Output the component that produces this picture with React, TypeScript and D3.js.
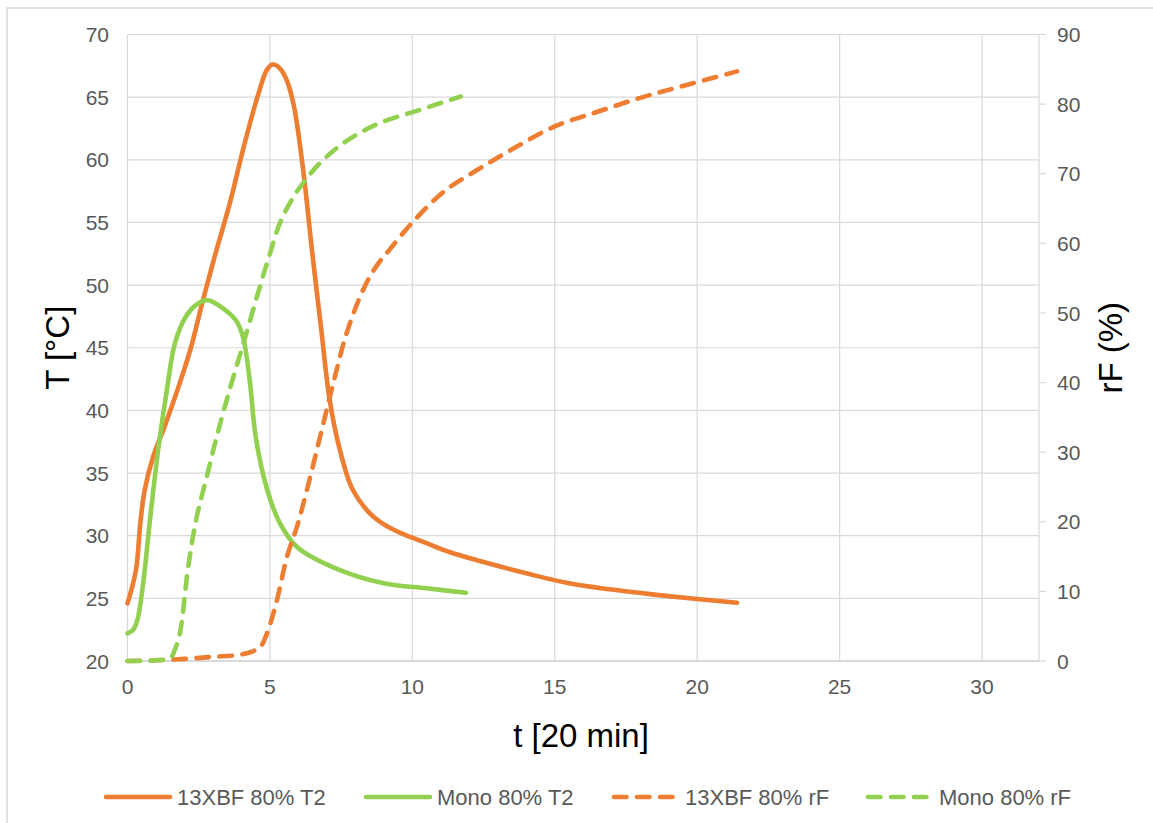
import React from "react";
import * as d3 from "d3";

// ---- data ----
const xTicks = [0, 5, 10, 15, 20, 25, 30];
const yLeftTicks = [20, 25, 30, 35, 40, 45, 50, 55, 60, 65, 70];
const yRightTicks = [0, 10, 20, 30, 40, 50, 60, 70, 80, 90];

const t13T = [0, 0.3, 0.45, 0.6, 0.9, 1.3, 1.75, 2.2, 2.65, 3.1, 3.6, 4.1, 4.6, 4.9, 5.1, 5.35, 5.6, 5.85, 6.15, 6.5, 6.8, 7.1, 7.45, 7.9, 8.5, 9.0, 9.6, 10.5, 11.3, 12.5, 14, 15.5, 17, 18.5, 20, 21.4];
const v13T = [24.6, 27.3, 31.0, 33.6, 36.3, 38.7, 41.6, 44.8, 48.8, 52.6, 56.6, 61.2, 65.3, 67.2, 67.6, 67.3, 66.3, 64.2, 59.5, 52.3, 46.5, 40.8, 36.9, 33.7, 31.8, 30.9, 30.2, 29.4, 28.7, 27.9, 27.0, 26.2, 25.7, 25.3, 24.95, 24.65];

const tMonoT = [0, 0.2, 0.35, 0.55, 0.8, 1.08, 1.38, 1.67, 2.05, 2.4, 2.8, 3.25, 3.8, 4.05, 4.3, 4.5, 4.9, 5.35, 5.95, 7.2, 9, 10.5, 11.88];
const vMonoT = [22.2, 22.5, 23.3, 26.2, 31.5, 36.9, 41.6, 45.4, 47.5, 48.4, 48.8, 48.3, 47.2, 45.9, 42.2, 37.9, 33.7, 31.0, 29.1, 27.5, 26.2, 25.8, 25.45];

const t13rF = [0, 1, 2, 3, 3.95, 4.4, 4.66, 4.9, 5.25, 5.6, 5.95, 6.3, 6.76, 7.23, 7.7, 8.27, 8.7, 9.2, 10.0, 11.1, 12.3, 13.5, 15, 16.5, 18, 19.5, 21.4];
const v13rF = [0, 0.1, 0.3, 0.6, 0.9, 1.4, 2, 4, 8.8, 15, 19.3, 24.6, 32.2, 40, 47.2, 53.3, 56.5, 59.1, 63, 67.4, 70.6, 73.5, 76.8, 78.9, 80.9, 82.6, 84.7];

const tMonorF = [0, 0.5, 1.0, 1.5, 1.65, 1.84, 2.13, 2.43, 2.78, 3.13, 3.6, 4.06, 4.7, 5.0, 5.36, 5.8, 6.17, 6.7, 7.35, 8.0, 8.87, 10.28, 11.7];
const vMonorF = [0, 0, 0.1, 0.4, 1.5, 4, 13.5, 20.7, 26.4, 32.2, 39.2, 45.5, 54.5, 58.5, 63, 66.5, 68.7, 71.3, 73.7, 75.5, 77.3, 79.2, 81.1];

const seriesNames = ["13XBF 80% T2", "Mono 80% T2", "13XBF 80% rF", "Mono 80% rF"];

const ORANGE = "#ED7D31";
const GREEN = "#92D050";
const GRID = "#d9d9d9";
const TXT = "#595959";
const FONT = "'Liberation Sans', Arial, sans-serif";

export default function App() {
  const W = 1153, H = 823;
  const left = 127.5, right = 1039, top = 34.5, bottom = 661;

  const x = d3.scaleLinear().domain([0, 32]).range([left, right]);
  const yL = d3.scaleLinear().domain([20, 70]).range([bottom, top]);
  const yR = d3.scaleLinear().domain([0, 90]).range([bottom, top]);

  const curve = d3.curveCatmullRom.alpha(0.5);
  const lineL = d3.line<[number, number]>().x(d => x(d[0])).y(d => yL(d[1])).curve(curve);
  const lineR = d3.line<[number, number]>().x(d => x(d[0])).y(d => yR(d[1])).curve(curve);

  const zip = (a: number[], b: number[]) => a.map((v, i) => [v, b[i]] as [number, number]);

  const series = [
    { name: seriesNames[0], d: lineL(zip(t13T, v13T)), color: ORANGE, dash: undefined },
    { name: seriesNames[1], d: lineL(zip(tMonoT, vMonoT)), color: GREEN, dash: undefined },
    { name: seriesNames[2], d: lineR(zip(t13rF, v13rF)), color: ORANGE, dash: "12.5,10.5" },
    { name: seriesNames[3], d: lineR(zip(tMonorF, vMonorF)), color: GREEN, dash: "12.5,10.5" },
  ];

  const legendX = [104, 364, 612, 866];
  const legendY = 797;

  return (
    <svg width={W} height={H} style={{ position: "absolute", left: 0, top: 0, background: "#fff" }} fontFamily={FONT}>
      <rect x={7} y={8} width={1170} height={840} fill="#fff" stroke={GRID} strokeWidth={1.5} />
      {/* horizontal gridlines */}
      {yLeftTicks.map(v => (
        <line key={"h" + v} x1={left} x2={right} y1={yL(v)} y2={yL(v)} stroke={GRID} strokeWidth={1.2} />
      ))}
      {/* vertical gridlines */}
      {xTicks.map(v => (
        <line key={"v" + v} x1={x(v)} x2={x(v)} y1={top} y2={bottom} stroke={GRID} strokeWidth={1.2} />
      ))}
      {/* right axis */}
      <line x1={right} x2={right} y1={top} y2={bottom} stroke={GRID} strokeWidth={1.2} />
      {yRightTicks.map(v => (
        <line key={"rt" + v} x1={right} x2={right + 7} y1={yR(v)} y2={yR(v)} stroke={GRID} strokeWidth={1.2} />
      ))}
      {/* bottom axis */}
      <line x1={left} x2={right} y1={bottom} y2={bottom} stroke="#c8c8c8" strokeWidth={1.2} />

      {/* tick labels */}
      {yLeftTicks.map(v => (
        <text key={"yl" + v} x={109} y={yL(v)} dy="0.36em" textAnchor="end" fontSize={21} fill={TXT}>{v}</text>
      ))}
      {yRightTicks.map(v => (
        <text key={"yr" + v} x={1057} y={yR(v)} dy="0.36em" textAnchor="start" fontSize={21} fill={TXT}>{v}</text>
      ))}
      {xTicks.map(v => (
        <text key={"xt" + v} x={x(v)} y={694} textAnchor="middle" fontSize={21} fill={TXT}>{v}</text>
      ))}

      {/* axis titles */}
      <text x={581} y={747} textAnchor="middle" fontSize={33} fill="#000">t [20 min]</text>
      <text transform={`translate(69,${(top + bottom) / 2}) rotate(-90)`} textAnchor="middle" fontSize={33} fill="#000">T [°C]</text>
      <text transform={`translate(1122,${(top + bottom) / 2}) rotate(-90)`} textAnchor="middle" fontSize={33} fill="#000">rF (%)</text>

      {/* series */}
      {series.map(s => (
        <path key={s.name} d={s.d || ""} fill="none" stroke={s.color} strokeWidth={4.6}
          strokeDasharray={s.dash} strokeLinecap="round" strokeLinejoin="round" />
      ))}

      {/* legend */}
      {series.map((s, i) => (
        <g key={"lg" + i}>
          <line x1={legendX[i] + 2} x2={legendX[i] + 66} y1={legendY} y2={legendY} stroke={s.color}
            strokeWidth={4.6} strokeDasharray={s.dash} strokeLinecap="round" />
          <text x={legendX[i] + 73} y={legendY} dy="0.36em" fontSize={22} fill={TXT}>{s.name}</text>
        </g>
      ))}
    </svg>
  );
}
